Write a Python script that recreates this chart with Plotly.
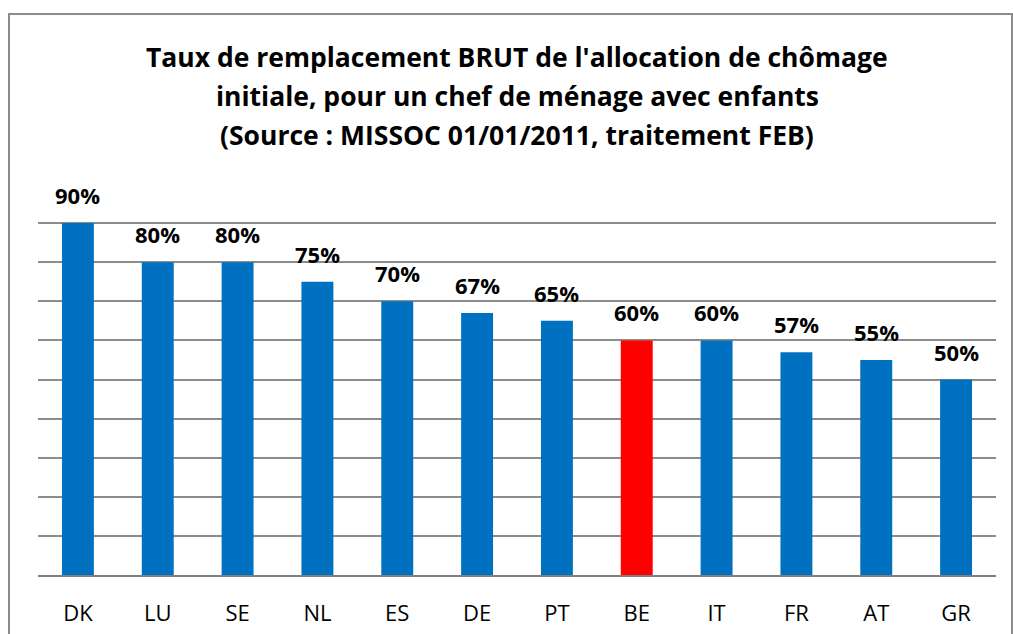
import plotly.graph_objects as go

countries = ["DK", "LU", "SE", "NL", "ES", "DE", "PT", "BE", "IT", "FR", "AT", "GR"]
rates = [0.90, 0.80, 0.80, 0.75, 0.70, 0.67, 0.65, 0.60, 0.60, 0.57, 0.55, 0.50]
labels = ["90%", "80%", "80%", "75%", "70%", "67%", "65%", "60%", "60%", "57%", "55%", "50%"]
highlight = "BE"
title_lines = [
    "Taux de remplacement BRUT de l'allocation de chômage",
    "initiale, pour un chef de ménage avec enfants",
    "(Source : MISSOC 01/01/2011, traitement FEB)",
]

BLUE = "#0070C0"
RED = "#FF0000"
colors = [RED if c == highlight else BLUE for c in countries]
FONT = "Open Sans"

W, H = 1013, 634
ML, MR, MT, MB = 38, 17, 184, 59
pw = W - ML - MR
ph = H - MT - MB

fig = go.Figure()
fig.add_trace(go.Bar(
    x=countries, y=rates, marker=dict(color=colors, line=dict(width=0)),
    width=0.4, hoverinfo="skip",
))

for c, v, t in zip(countries, rates, labels):
    fig.add_annotation(x=c, y=v, text=f"<b>{t}</b>", showarrow=False, yanchor="bottom",
                       yshift=11, font=dict(family=FONT, size=22, color="black"),
                       xref="x", yref="y")

def px_to_paper_y(py):
    return (H - MB - py) / ph

for i, line in enumerate(title_lines):
    fig.add_annotation(x=0.5, xref="paper", y=px_to_paper_y(57 + 39 * i), yref="paper",
                       text=f"<b>{line}</b>", showarrow=False, yanchor="middle",
                       xanchor="center", xshift=(517 - (ML + pw / 2)),
                       font=dict(family=FONT, size=26.5, color="black"))

# chart border
fig.add_shape(type="rect", xref="paper", yref="paper",
              x0=(9 - ML) / pw, x1=(1012 - ML) / pw,
              y0=px_to_paper_y(660), y1=px_to_paper_y(14),
              line=dict(color="#8c8c8c", width=2), fillcolor="rgba(0,0,0,0)", layer="below")

fig.update_layout(
    width=W, height=H,
    margin=dict(l=ML, r=MR, t=MT, b=MB, pad=0, autoexpand=False),
    plot_bgcolor="white", paper_bgcolor="white",
    showlegend=False,
    bargap=0.6,
    xaxis=dict(showgrid=False, showline=True, linecolor="#808080", linewidth=2,
               ticks="", tickfont=dict(family=FONT, size=22, color="black"),
               range=[-0.5, 11.5], fixedrange=True, ticklabelstandoff=18,
               automargin=False),
    yaxis=dict(range=[0, 1.0], dtick=0.1, showgrid=True, gridcolor="#8c8c8c", gridwidth=1.5,
               showticklabels=False, zeroline=False, showline=False, ticks="",
               fixedrange=True, automargin=False),
)

fig.write_html("out.html", config={"displayModeBar": False},
               post_script="document.body.style.margin='0';")
